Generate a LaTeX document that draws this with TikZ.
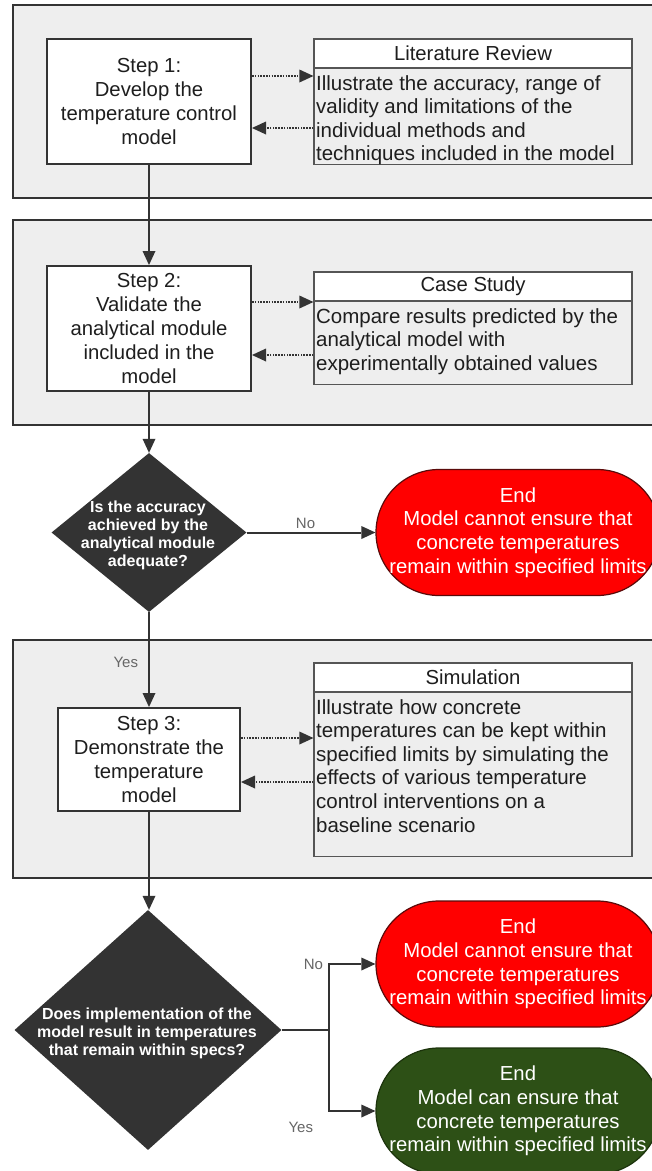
\documentclass[tikz,border=0pt]{standalone}
\usepackage{fontspec}
\setmainfont{Liberation Sans}
\usetikzlibrary{arrows.meta,shapes.geometric,calc}

\definecolor{panelfill}{HTML}{EEEEEE}
\definecolor{linec}{HTML}{333333}
\definecolor{boxline}{HTML}{555555}
\definecolor{txt}{HTML}{1E1E1E}
\definecolor{diafill}{HTML}{333333}
\definecolor{endred}{HTML}{FF0000}
\definecolor{reddark}{HTML}{5A0A0A}
\definecolor{endgreen}{HTML}{2D5016}
\definecolor{greendark}{HTML}{1C330C}
\definecolor{labelc}{HTML}{666666}

\begin{document}
\begin{tikzpicture}[x=1pt,y=-1pt,
  panel/.style={fill=panelfill,draw=linec,line width=2pt},
  stepbox/.style={rectangle,draw=linec,line width=2pt,fill=white,inner sep=0pt,
    align=center,text=txt,font=\fontsize{20.3}{24}\selectfont},
  infotitle/.style={rectangle,draw=boxline,line width=1.2pt,fill=white,inner sep=0pt,
    minimum width=318pt,minimum height=29pt,text=txt,font=\fontsize{20.3}{24}\selectfont},
  infobody/.style={rectangle,draw=boxline,line width=1.2pt,fill=panelfill,inner sep=0pt,
    minimum width=318pt},
  bodytext/.style={anchor=north west,inner sep=0pt,align=left,text=txt,
    font=\fontsize{20.5}{23.6}\selectfont},
  decision/.style={diamond,fill=diafill,draw=none,inner sep=0pt},
  dectext/.style={align=center,text=white,inner sep=0pt,
    font=\bfseries\fontsize{16}{18}\selectfont},
  terminal/.style={rectangle,rounded corners=63pt,minimum width=284pt,minimum height=126pt,
    inner sep=0pt,align=center,text=white,line width=1.2pt,
    font=\fontsize{20.3}{23.7}\selectfont},
  flow/.style={draw=linec,line width=2pt,
    -{Triangle[length=14pt,width=13pt,line width=0pt]}},
  link/.style={draw=linec,line width=1.6pt,dash pattern=on 1.6pt off 1.2pt,
    -{Triangle[length=14pt,width=13pt,line width=0pt]}},
  branch/.style={text=labelc,inner sep=0pt,font=\fontsize{15}{17}\selectfont},
]
\useasboundingbox (0,0) rectangle (652,1171);
\clip (0,0) rectangle (652,1171);
\fill[white] (0,0) rectangle (652,1171);

% grey phase panels
\path[panel] (13,5) rectangle (680,198);
\path[panel] (13,220) rectangle (680,425);
\path[panel] (13,640) rectangle (680,878);

% process steps
\node[stepbox,minimum width=204pt,minimum height=125pt] (s1) at (149,101.5)
  {Step 1:\\Develop the\\temperature control\\model};
\node[stepbox,minimum width=204pt,minimum height=125pt] (s2) at (149,328.5)
  {Step 2:\\Validate the\\analytical module\\included in the\\model};
\node[stepbox,minimum width=182pt,minimum height=103pt] (s3) at (149,759.5)
  {Step 3:\\Demonstrate the\\temperature\\model};

% side boxes: body first, title on top
\node[infobody,minimum height=96pt,anchor=north] (b1) at (473,68) {};
\node[infotitle] (t1) at (473,53.5) {Literature Review};
\node[bodytext] (x1) at ($(b1.north west)+(2.5,7)$)
  {Illustrate the accuracy, range of\\validity and limitations of the\\individual methods and\\techniques included in the model};

\node[infobody,minimum height=83pt,anchor=north] (b2) at (473,301) {};
\node[infotitle] (t2) at (473,286.5) {Case Study};
\node[bodytext] (x2) at ($(b2.north west)+(2.5,7)$)
  {Compare results predicted by the\\analytical model with\\experimentally obtained values};

\node[infobody,minimum height=164pt,anchor=north] (b3) at (473,692) {};
\node[infotitle] (t3) at (473,677.5) {Simulation};
\node[bodytext] (x3) at ($(b3.north west)+(2.5,7)$)
  {Illustrate how concrete\\temperatures can be kept within\\specified limits by simulating the\\effects of various temperature\\control interventions on a\\baseline scenario};

% dotted exchanges between steps and side boxes
\coordinate (a1) at ([yshift=25.5pt]s1.east);
\coordinate (a2) at ([yshift=-26.5pt]s1.east);
\draw[link] (a1) -- (a1 -| b1.west);
\draw[link] (a2 -| b1.west) -- (a2);
\coordinate (a3) at ([yshift=26.5pt]s2.east);
\coordinate (a4) at ([yshift=-26.5pt]s2.east);
\draw[link] (a3) -- (a3 -| b2.west);
\draw[link] (a4 -| b2.west) -- (a4);
\coordinate (a5) at ([yshift=21.5pt]s3.east);
\coordinate (a6) at ([yshift=-22.5pt]s3.east);
\draw[link] (a5) -- (a5 -| b3.west);
\draw[link] (a6 -| b3.west) -- (a6);

% decisions
\node[decision,minimum width=195pt,minimum height=159pt] (d1) at (149,532.5) {};
\node[dectext] (q1) at (148,535)
  {Is the accuracy\\achieved by the\\analytical module\\adequate?};
\node[decision,minimum width=267pt,minimum height=240pt] (d2) at (148,1030) {};
\node[dectext] (q2) at (147,1033)
  {Does implementation of the\\model result in temperatures\\that remain within specs?};

% end states
\node[terminal,fill=endred,draw=reddark] (r1) at (518,532.5)
  {End\\Model cannot ensure that\\concrete temperatures\\remain within specified limits};
\node[terminal,fill=endred,draw=reddark] (r2) at (518,964)
  {End\\Model cannot ensure that\\concrete temperatures\\remain within specified limits};
\node[terminal,fill=endgreen,draw=greendark] (g1) at (518,1111)
  {End\\Model can ensure that\\concrete temperatures\\remain within specified limits};

% main flow
\draw[flow] (s1.south) -- (s2.north);
\draw[flow] (s2.south) -- (d1.north);
\draw[flow] (d1.east) -- (r1.west)
  node[branch,pos=0.457,above=3pt] (n1) {No};
\draw[flow] (d1.south) -- (s3.north)
  node[branch,pos=0.53,left=10pt] (y1) {Yes};
\draw[flow] (s3.south) -- (s3.south |- d2.north);
\coordinate (fork) at (329,1030);
\draw[draw=linec,line width=2pt] (d2.east) -- (fork);
\draw[flow] (fork) |- (r2.west)
  node[branch,pos=0.5,anchor=east,xshift=-5pt] (n2) {No};
\draw[flow] (fork) |- (g1.west)
  node[branch,pos=0.5,anchor=north east,xshift=-15pt,yshift=-10pt] (y2) {Yes};
\end{tikzpicture}
\end{document}
